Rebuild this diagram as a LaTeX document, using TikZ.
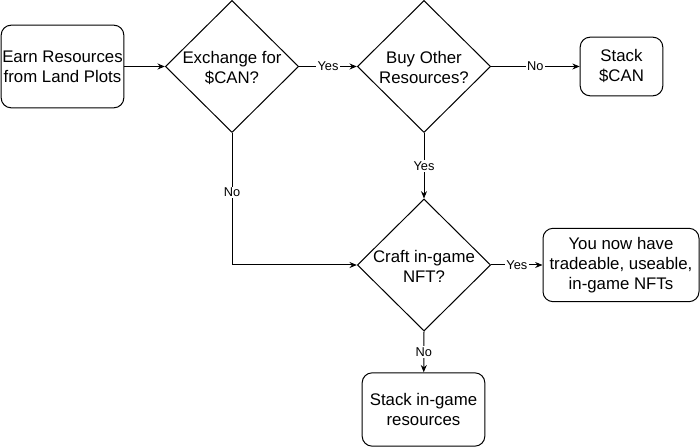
\documentclass[tikz,border=0pt]{standalone}
\usepackage{fontspec}
\setmainfont{Liberation Sans}
\usetikzlibrary{shapes.geometric,arrows.meta}
\begin{document}
\begin{tikzpicture}[x=0.75pt,y=-0.75pt,
  box/.style={draw, rounded corners=7.5pt, line width=0.75pt, align=center,
    font=\fontsize{12.6}{15}\selectfont, inner sep=0pt},
  dec/.style={draw, diamond, line width=0.75pt, inner sep=0pt,
    minimum width=100pt, minimum height=99pt},
  dtext/.style={align=center, font=\fontsize{12.6}{15}\selectfont, inner sep=0pt, yshift=-1pt},
  arr/.style={draw, line width=0.75pt, -{Stealth[length=5.5pt,width=4.5pt]}},
  lab/.style={fill=white, font=\fontsize{9.6}{11}\selectfont, inner sep=1pt}
]
\useasboundingbox (0,0) rectangle (700,448);

\node[box, minimum width=92pt, minimum height=62pt] (earn) at (62.5,66.5) {Earn Resources\\from Land Plots};
\node[dec, label={[dtext]center:Exchange for\\\$CAN?}] (d1) at (232,66.5) {};
\node[dec, label={[dtext]center:Buy Other\\Resources?}] (d2) at (424,66.5) {};
\node[box, minimum width=62pt, minimum height=44pt] (scan) at (621.5,66.5) {Stack\\\$CAN};
\node[dec, label={[dtext]center:Craft in-game\\NFT?}] (d3) at (424,265) {};
\node[box, minimum width=117pt, minimum height=55pt] (nft) at (621,265) {You now have\\tradeable, useable,\\in-game NFTs};
\node[box, minimum width=92pt, minimum height=55pt] (sres) at (423.5,409.5) {Stack in-game\\resources};

\draw[arr] (earn) -- (d1.west);
\draw[arr] (d1.east) -- node[lab] {Yes} (d2.west);
\draw[arr] (d2.east) -- node[lab] {No} (scan);
\draw[arr] (d2.south) -- node[lab] {Yes} (d3.north);
\draw[arr] (d1.south) |- node[lab, pos=0.225] {No} (d3.west);
\draw[arr] (d3.east) -- node[lab] {Yes} (nft);
\draw[arr] (d3.south) -- node[lab] {No} (sres);
\end{tikzpicture}
\end{document}
